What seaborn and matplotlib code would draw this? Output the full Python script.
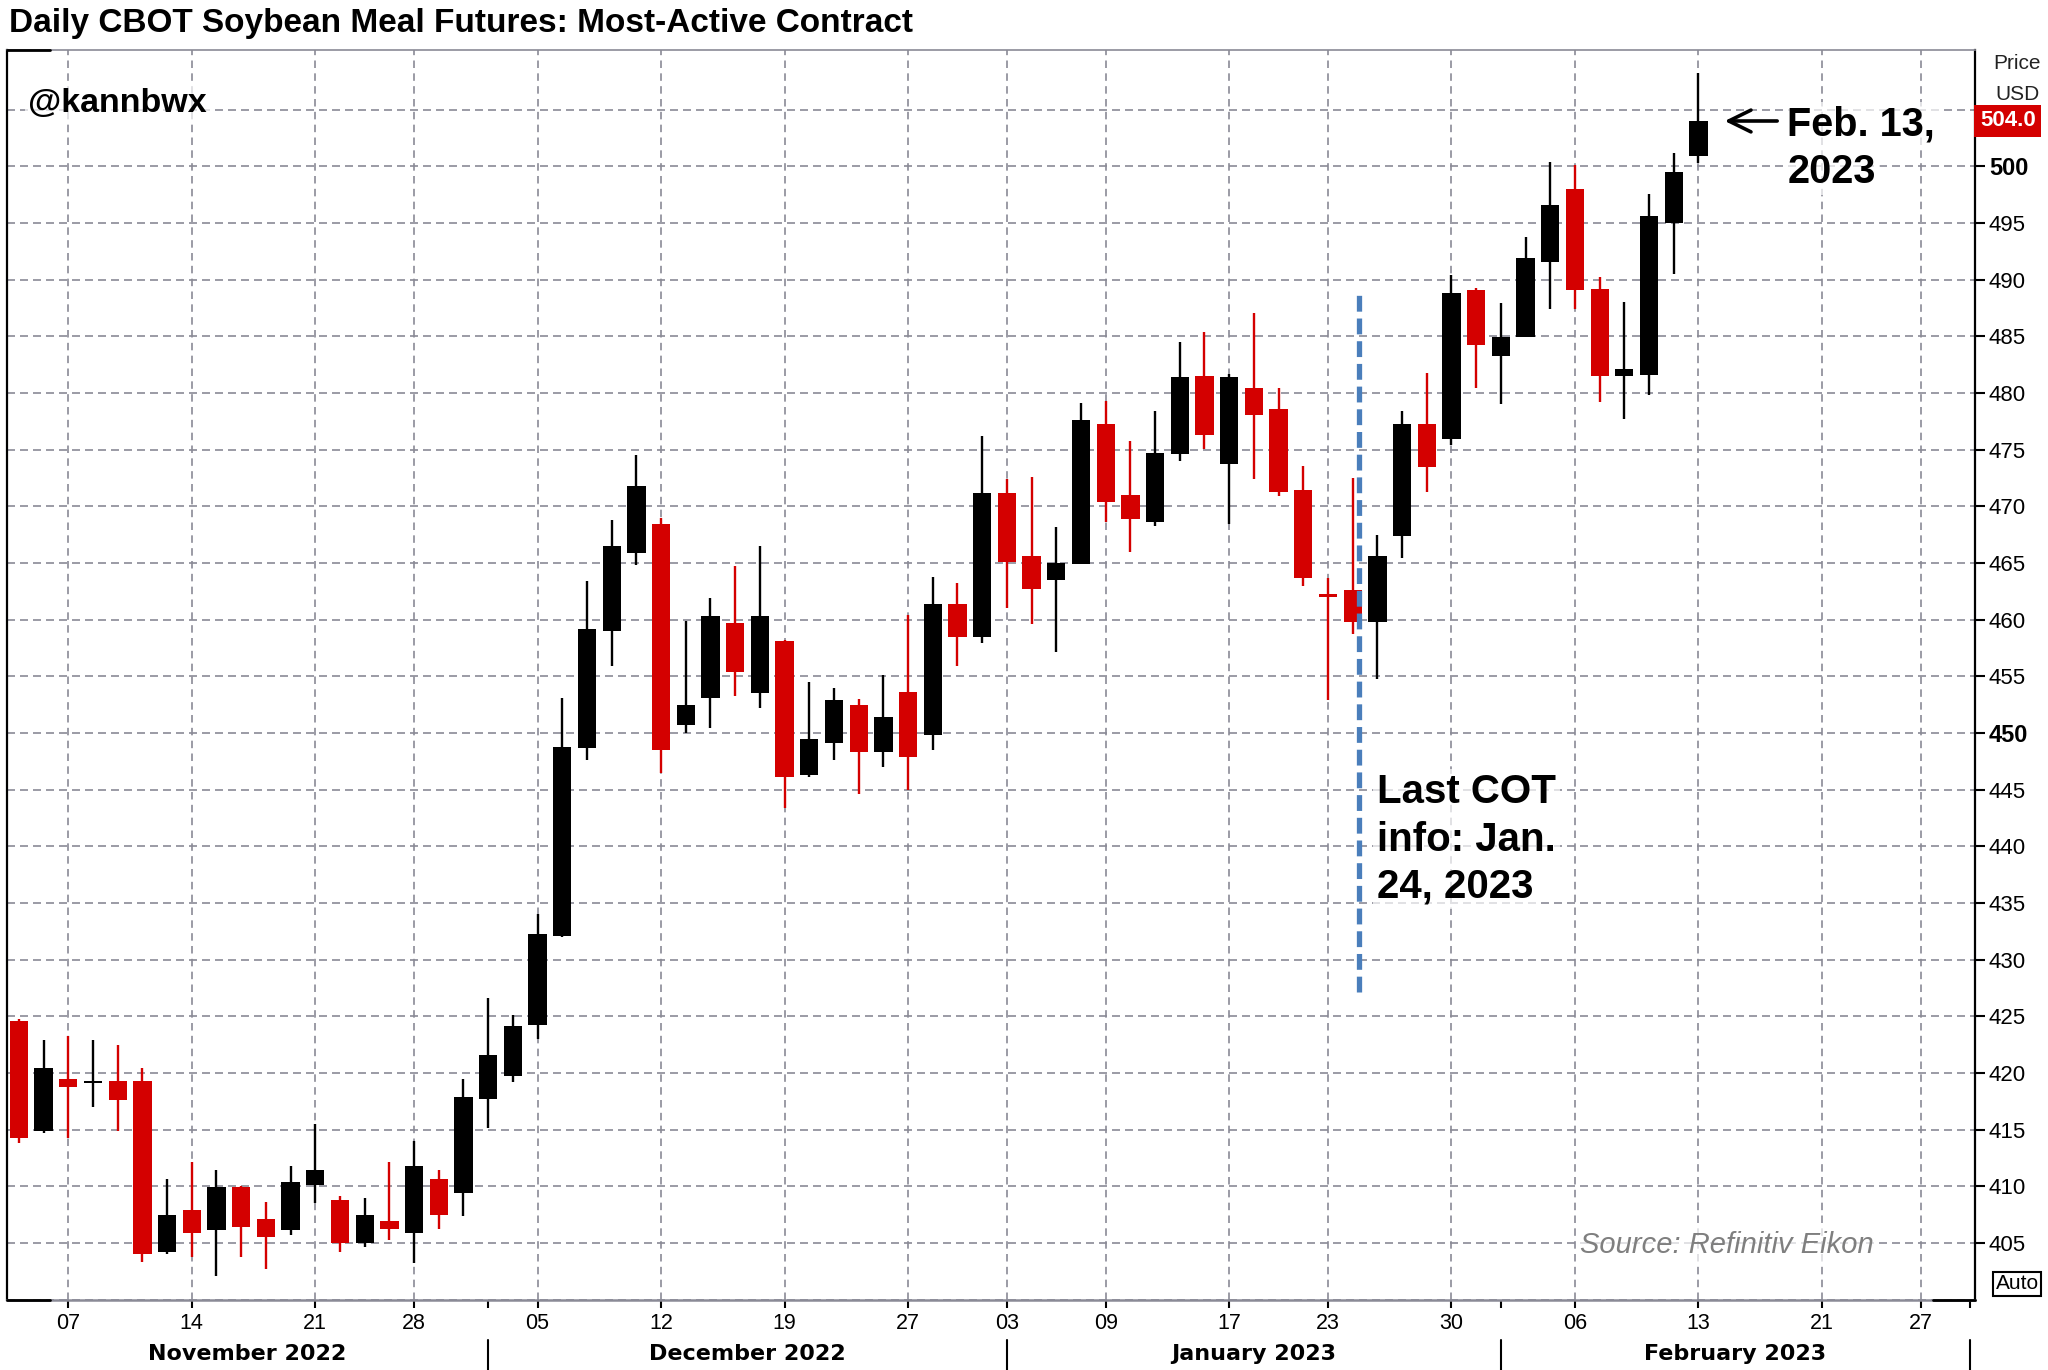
import numpy as np
import pandas as pd
import matplotlib.pyplot as plt
import seaborn as sns
from matplotlib.transforms import blended_transform_factory

# daily sessions, most-active CBOT soybean meal contract
dates = ["2022-11-03", "2022-11-04", "2022-11-07", "2022-11-08", "2022-11-09", "2022-11-10",
         "2022-11-11", "2022-11-14", "2022-11-15", "2022-11-16", "2022-11-17", "2022-11-18",
         "2022-11-21", "2022-11-22", "2022-11-23", "2022-11-25", "2022-11-28", "2022-11-29",
         "2022-11-30", "2022-12-01", "2022-12-02", "2022-12-05", "2022-12-06", "2022-12-07",
         "2022-12-08", "2022-12-09", "2022-12-12", "2022-12-13", "2022-12-14", "2022-12-15",
         "2022-12-16", "2022-12-19", "2022-12-20", "2022-12-21", "2022-12-22", "2022-12-23",
         "2022-12-27", "2022-12-28", "2022-12-29", "2022-12-30", "2023-01-03", "2023-01-04",
         "2023-01-05", "2023-01-06", "2023-01-09", "2023-01-10", "2023-01-11", "2023-01-12",
         "2023-01-13", "2023-01-17", "2023-01-18", "2023-01-19", "2023-01-20", "2023-01-23",
         "2023-01-24", "2023-01-25", "2023-01-26", "2023-01-27", "2023-01-30", "2023-01-31",
         "2023-02-01", "2023-02-02", "2023-02-03", "2023-02-06", "2023-02-07", "2023-02-08",
         "2023-02-09", "2023-02-10", "2023-02-13"]
opens = [424.6, 414.9, 419.5, 419.1, 419.3, 419.3, 404.2, 407.9, 406.1, 409.9, 407.1, 406.1,
         410.1, 408.8, 405.0, 406.9, 405.9, 410.6, 409.4, 417.7, 419.7, 424.2, 432.1, 448.7,
         459.0, 465.9, 468.4, 450.7, 453.1, 459.7, 453.5, 458.1, 446.3, 449.1, 452.5, 448.3,
         453.6, 449.8, 461.4, 458.5, 471.2, 465.6, 463.5, 464.9, 477.3, 471.0, 468.6, 474.6,
         481.5, 473.7, 480.4, 478.6, 471.4, 462.2, 462.6, 459.8, 467.4, 477.3, 475.9, 489.1,
         483.3, 484.9, 491.6, 498.0, 489.2, 481.5, 481.6, 495.0, 500.9]
highs = [424.8, 422.9, 423.3, 422.9, 422.5, 420.4, 410.6, 412.1, 411.4, 410.0, 408.6, 411.8,
         415.5, 409.1, 409.0, 412.1, 414.0, 411.4, 419.5, 426.6, 425.1, 434.0, 453.1, 463.4,
         468.8, 474.5, 469.0, 459.9, 461.9, 464.7, 466.5, 458.2, 454.5, 454.0, 453.0, 455.1,
         460.4, 463.8, 463.2, 476.2, 472.4, 472.6, 468.2, 479.1, 479.3, 475.8, 478.4, 484.5,
         485.4, 481.7, 487.1, 480.4, 473.6, 463.7, 472.5, 467.5, 478.4, 481.8, 490.4, 489.3,
         487.9, 493.8, 500.4, 500.1, 490.2, 488.0, 497.6, 501.2, 508.2]
lows = [413.8, 414.7, 414.3, 417.0, 414.9, 403.3, 404.0, 403.8, 402.1, 403.8, 402.7, 405.7,
        408.5, 404.2, 404.6, 405.3, 403.2, 406.2, 407.4, 415.1, 419.2, 423.0, 432.0, 447.6,
        455.9, 464.8, 446.5, 450.0, 450.4, 453.3, 452.2, 443.4, 446.1, 447.6, 444.6, 447.0,
        445.0, 448.5, 455.9, 457.9, 461.0, 459.6, 457.1, 464.9, 468.6, 466.0, 468.3, 474.0,
        475.1, 468.4, 472.4, 470.9, 463.0, 452.9, 458.7, 454.8, 465.4, 471.3, 475.4, 480.4,
        479.0, 484.9, 487.4, 487.4, 479.2, 477.7, 479.8, 490.5, 500.3]
closes = [414.3, 420.4, 418.8, 419.3, 417.6, 404.0, 407.5, 405.9, 409.9, 406.4, 405.5, 410.4,
          411.4, 405.0, 407.5, 406.2, 411.8, 407.5, 417.9, 421.6, 424.1, 432.3, 448.8, 459.2,
          466.5, 471.8, 448.5, 452.5, 460.3, 455.4, 460.3, 446.1, 449.5, 452.9, 448.3, 451.4,
          447.9, 461.4, 458.5, 471.2, 465.1, 462.7, 465.0, 477.6, 470.4, 468.9, 474.7, 481.4,
          476.3, 481.4, 478.1, 471.3, 463.7, 462.0, 459.8, 465.6, 477.3, 473.5, 488.8, 484.2,
          484.9, 491.9, 496.6, 489.1, 481.5, 482.1, 495.6, 499.5, 504.0]

holidays = ["2022-11-24", "2022-12-26", "2023-01-02", "2023-01-16", "2023-02-20"]
tick_dates = ["2022-11-07", "2022-11-14", "2022-11-21", "2022-11-28", "2022-12-05", "2022-12-12",
              "2022-12-19", "2022-12-27", "2023-01-03", "2023-01-09", "2023-01-17", "2023-01-23",
              "2023-01-30", "2023-02-06", "2023-02-13", "2023-02-21", "2023-02-27"]
month_starts = ["2022-12-01", "2023-01-03", "2023-02-01", "2023-03-01"]
month_names = ["November 2022", "December 2022", "January 2023", "February 2023"]
price_ticks = list(range(405, 501, 5))
cot_date = "2023-01-24"

RED = "#d40000"
GRID = "#8a8a96"

sns.set_theme(style="white")
plt.rcParams["font.family"] = ["Liberation Sans", "DejaVu Sans"]
plt.rcParams["text.color"] = "black"
plt.rcParams["xtick.color"] = "black"
plt.rcParams["ytick.color"] = "black"

# trading-day axis (no gaps for weekends / exchange holidays)
cal = pd.bdate_range("2022-11-03", "2023-03-10", freq="C", holidays=holidays)
pos = {d: i for i, d in enumerate(cal)}

df = pd.DataFrame({"date": pd.to_datetime(dates), "open": opens, "high": highs,
                   "low": lows, "close": closes})
df["x"] = df["date"].map(pos)
df["color"] = np.where(df["close"] >= df["open"], "black", RED)

fig = plt.figure(figsize=(20.48, 13.7), dpi=100)
ax = fig.add_axes([0.0032, 0.0514, 0.9612, 0.9124])
ax.set_xlim(-0.5, 79.2)
ax.set_ylim(400, 510.3)

# grid
for y in range(400, 506, 5):
    ax.axhline(y, color=GRID, lw=1.2, ls=(0, (4.8, 3)), zorder=1)
xt = [pos[pd.Timestamp(d)] for d in tick_dates]
for x in xt:
    ax.axvline(x, color=GRID, lw=1.2, ls=(0, (4.5, 3.2)), zorder=1)

# candles
ax.vlines(df["x"], df["low"], df["high"], colors=df["color"], lw=1.7, zorder=3)
body = (df["close"] - df["open"]).abs().clip(lower=0.22)
bottom = df[["open", "close"]].min(axis=1)
ax.bar(df["x"], body, bottom=bottom, width=0.74, color=df["color"], lw=0, zorder=4)

# x axis
ax.set_xticks(xt)
ax.set_xticklabels([pd.Timestamp(d).strftime("%d") for d in tick_dates], fontsize=15.5)
ms = [pos[pd.Timestamp(d)] for d in month_starts]
ax.set_xticks(ms, minor=True)
ax.tick_params(axis="x", which="both", direction="out", length=6, width=1.5,
               color="black", pad=4, bottom=True)

tr = blended_transform_factory(ax.transData, ax.transAxes)
edges = [ax.get_xlim()[0]] + ms
for i, name in enumerate(month_names):
    ax.text((edges[i] + edges[i + 1]) / 2, -0.048, name, transform=tr, ha="center",
            va="baseline", fontsize=16, fontweight="bold", family="DejaVu Sans")
for m in ms:
    ax.plot([m, m], [-0.032, -0.07], transform=tr, color="black", lw=1.5, clip_on=False)

# y axis on the right
ax.yaxis.tick_right()
ax.set_yticks(price_ticks)
ax.set_yticklabels([str(p) for p in price_ticks], fontsize=16)
for lab, p in zip(ax.get_yticklabels(), price_ticks):
    if p % 50 == 0:
        lab.set_fontweight("bold")
        lab.set_fontsize(17)
ax.tick_params(axis="y", direction="out", length=7, width=1.5, color="black", pad=3, right=True)

for side in ["left", "right"]:
    ax.spines[side].set_color("black")
    ax.spines[side].set_linewidth(1.6)
ax.spines["top"].set_color(GRID)
ax.spines["top"].set_linewidth(1.2)
ax.spines["bottom"].set_color(GRID)
ax.spines["bottom"].set_linewidth(1.8)
xl = ax.get_xlim()
ax.plot([xl[0], xl[0] + 1.75], [1, 1], transform=tr, color="black", lw=2, clip_on=False, zorder=6)
ax.plot([xl[0], xl[0] + 1.75], [0, 0], transform=tr, color="black", lw=2, clip_on=False, zorder=6)
ax.plot([xl[1] - 1.7, xl[1]], [0, 0], transform=tr, color="black", lw=2, clip_on=False, zorder=6)

# COT marker
cot_x = pos[pd.Timestamp(cot_date)] + 0.25
ax.plot([cot_x, cot_x], [427.1, 488.8], color="#4a7ebb", lw=3.8,
        ls=(0, (3.0, 1.3)), zorder=5)
box = dict(boxstyle="square,pad=0.1", fc="white", ec="none", alpha=0.7)
for txt, yb in zip(["Last COT", "info: Jan.", "24, 2023"], [443.8, 439.6, 435.5]):
    ax.text(cot_x + 0.75, yb, txt, fontsize=29, fontweight="bold", va="baseline",
            ha="left", bbox=box, zorder=6)

# last close annotation
last_x = df["x"].iloc[-1]
last_c = df["close"].iloc[-1]
ax.annotate("", xy=(last_x + 0.95, last_c), xytext=(last_x + 3.3, last_c),
            arrowprops=dict(arrowstyle="->,head_length=0.57,head_width=0.28",
                            lw=2.6, color="black", mutation_scale=28), zorder=6)
ax.text(last_x + 3.6, 502.7, "Feb. 13,", fontsize=28.5, fontweight="bold", va="baseline",
        bbox=box, zorder=6)
ax.text(last_x + 3.6, 498.5, "2023", fontsize=28.5, fontweight="bold", va="baseline",
        bbox=box, zorder=6)

ax.text(0.38, 504.8, "@kannbwx", fontsize=24.5, fontweight="bold", va="baseline",
        bbox=box, zorder=6)
ax.text(63.2, 404.1, "Source: Refinitiv Eikon", fontsize=21, style="italic",
        color="#7f7f7f", va="baseline", bbox=box, zorder=6)

# right-hand labels
for txt, yf in zip(["Price", "USD", "SMT"], [0.954, 0.9307, 0.9066]):
    ax.text(0.985, yf, txt, transform=fig.transFigure, fontsize=15, ha="center",
            va="center", color="#222222", clip_on=False, zorder=7)
ax.text(1.0025, last_c, f"{last_c:.1f}", transform=blended_transform_factory(ax.transAxes, ax.transData),
        fontsize=16, fontweight="bold", color="white", ha="left", va="center", clip_on=False,
        bbox=dict(boxstyle="square,pad=0.25", fc=RED, ec="none"), zorder=8)
fig.text(0.985, 0.0631, "Auto", fontsize=15, ha="center", va="center",
         bbox=dict(boxstyle="square,pad=0.12", fc="white", ec="black", lw=1.5))

fig.text(0.0045, 0.977, "Daily CBOT Soybean Meal Futures: Most-Active Contract",
         fontsize=24, fontweight="bold", va="baseline", ha="left")

fig.savefig("out.png", dpi=100, facecolor="white")
